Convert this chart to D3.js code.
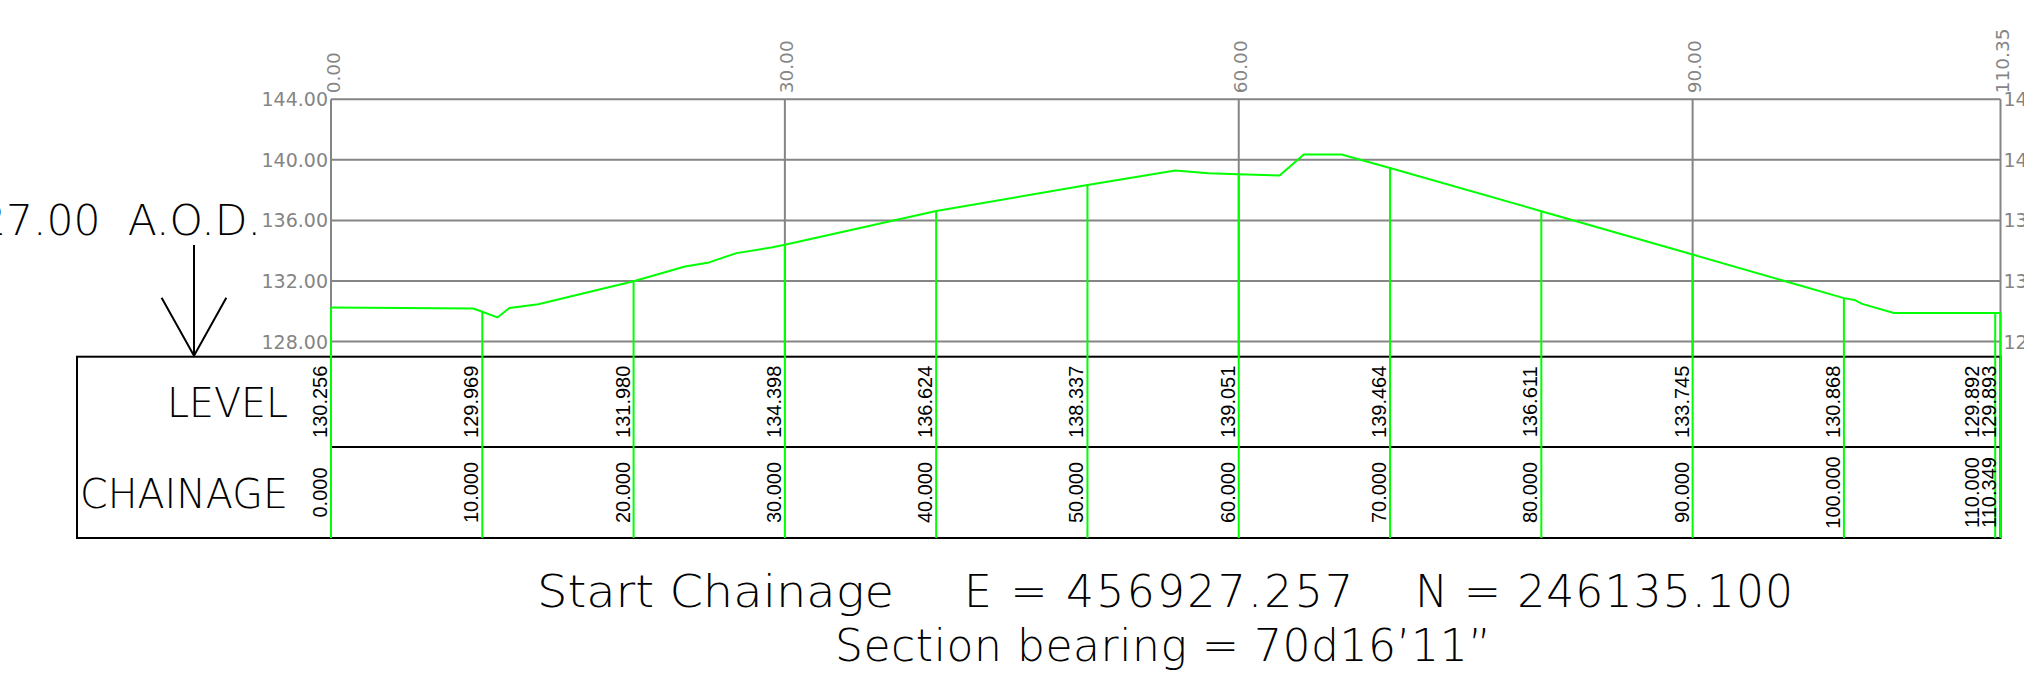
<!DOCTYPE html>
<html>
<head>
<meta charset="utf-8">
<script src="https://cdn.jsdelivr.net/npm/d3@7"></script>
<style>
  body { margin: 0; background: #fff; overflow: hidden; }
  svg { display: block; }
</style>
</head>
<body>
<div id="chart"></div>
<script>
const W = 2024, H = 700;

// section data
const chainages = [0, 10, 20, 30, 40, 50, 60, 70, 80, 90, 100, 110, 110.349];
const levels = [130.256, 129.969, 131.980, 134.398, 136.624, 138.337, 139.051, 139.464, 136.611, 133.745, 130.868, 129.892, 129.893];
const chainageLabels = ["0.000", "10.000", "20.000", "30.000", "40.000", "50.000", "60.000", "70.000", "80.000", "90.000", "100.000", "110.000", "110.349"];
const levelLabels = ["130.256", "129.969", "131.980", "134.398", "136.624", "138.337", "139.051", "139.464", "136.611", "133.745", "130.868", "129.892", "129.893"];

// ground profile vertices
const profileCh = [0, 9.4, 10, 11.0, 11.8, 13.7, 20, 23.4, 24.9, 26.8, 29.1, 30, 40, 50, 55.8, 58.0, 60, 62.7, 64.3, 66.8, 70, 80, 90, 100, 100.7, 101.2, 103.3, 110, 110.349];
const profileLv = [130.256, 130.18, 129.969, 129.59, 130.22, 130.47, 131.980, 132.96, 133.2, 133.84, 134.21, 134.398, 136.624, 138.337, 139.30, 139.12, 139.051, 138.97, 140.36, 140.36, 139.464, 136.611, 133.745, 130.868, 130.75, 130.49, 129.89, 129.892, 129.893];

const gridLevels = [128, 132, 136, 140, 144];
const gridLabels = ["128.00", "132.00", "136.00", "140.00", "144.00"];
const topTicks = [0, 30, 60, 90, 110.35];
const topTickLabels = ["0.00", "30.00", "60.00", "90.00", "110.35"];
const datum = 127;

const GREY = "#858585";
const GREEN = "#00ff00";
const CAD_FONT = "'DejaVu Sans', sans-serif";

const x = d3.scaleLinear().domain([0, 110.35]).range([331, 2000.5]);
const y = d3.scaleLinear().domain([datum, 144]).range([356.7, 99.3]);

const tableLeft = 77, tableTop = y(datum), tableMid = 447, tableBottom = 538;

const svg = d3.select("#chart").append("svg").attr("width", W).attr("height", H);

// grid lines
svg.append("g").selectAll("line").data(gridLevels).enter().append("line")
    .attr("x1", x(0)).attr("x2", x(110.35))
    .attr("y1", d => y(d)).attr("y2", d => y(d))
    .attr("stroke", GREY).attr("stroke-width", 2);

svg.append("g").selectAll("line").data(topTicks).enter().append("line")
    .attr("x1", d => x(d)).attr("x2", d => x(d))
    .attr("y1", y(144)).attr("y2", tableTop)
    .attr("stroke", GREY).attr("stroke-width", 2);

// level labels, left and right (right ones run off the sheet as in the drawing)
svg.append("g").selectAll("text").data(gridLevels).enter().append("text")
    .attr("x", x(0) - 3).attr("y", d => y(d) + 7)
    .attr("text-anchor", "end")
    .attr("font-family", CAD_FONT).attr("font-size", 19)
    .attr("fill", GREY)
    .text((d, i) => gridLabels[i]);

svg.append("g").selectAll("text").data(gridLevels).enter().append("text")
    .attr("x", x(110.35) + 3).attr("y", d => y(d) + 7)
    .attr("font-family", CAD_FONT).attr("font-size", 19)
    .attr("fill", GREY)
    .text((d, i) => gridLabels[i]);

// chainage labels along the top
svg.append("g").selectAll("text").data(topTicks).enter().append("text")
    .attr("transform", d => `translate(${x(d) + 2},${y(144) - 6}) rotate(-90)`)
    .attr("dominant-baseline", "central")
    .attr("font-family", CAD_FONT).attr("font-size", 18.5)
    .attr("fill", GREY)
    .text((d, i) => topTickLabels[i]);

// table frame
const table = svg.append("g").attr("stroke", "#000").attr("stroke-width", 2).attr("fill", "none");
table.append("rect")
    .attr("x", tableLeft).attr("y", tableTop)
    .attr("width", x(110.349) - tableLeft).attr("height", tableBottom - tableTop);
table.append("line")
    .attr("x1", x(0)).attr("x2", x(110.349))
    .attr("y1", tableMid).attr("y2", tableMid);

// profile line
const line = d3.line().x(d => x(d[0])).y(d => y(d[1]));
svg.append("path")
    .datum(profileCh.map((c, i) => [c, profileLv[i]]))
    .attr("d", line)
    .attr("fill", "none").attr("stroke", GREEN).attr("stroke-width", 2);

// verticals from ground down to table bottom
svg.append("g").selectAll("line").data(chainages).enter().append("line")
    .attr("x1", d => x(d)).attr("x2", d => x(d))
    .attr("y1", (d, i) => y(levels[i])).attr("y2", tableBottom)
    .attr("stroke", GREEN).attr("stroke-width", 2);

// keep close labels from sitting on top of each other
const baseX = chainages.map(d => x(d) - 4);
for (let i = baseX.length - 2; i >= 0; i--) {
    baseX[i] = Math.min(baseX[i], baseX[i + 1] - 17);
}

svg.append("g").selectAll("text").data(chainages).enter().append("text")
    .attr("transform", (d, i) => `translate(${baseX[i]},${(tableTop + tableMid) / 2}) rotate(-90)`)
    .attr("text-anchor", "middle")
    .attr("font-family", "'Liberation Sans', Arial, sans-serif").attr("font-size", 20)
    .attr("fill", "#000")
    .text((d, i) => levelLabels[i]);

svg.append("g").selectAll("text").data(chainages).enter().append("text")
    .attr("transform", (d, i) => `translate(${baseX[i]},${(tableMid + tableBottom) / 2}) rotate(-90)`)
    .attr("text-anchor", "middle")
    .attr("font-family", "'Liberation Sans', Arial, sans-serif").attr("font-size", 20)
    .attr("fill", "#000")
    .text((d, i) => chainageLabels[i]);

// row titles
svg.append("text")
    .attr("x", 288).attr("y", 417).attr("text-anchor", "end")
    .attr("font-family", CAD_FONT).attr("font-weight", 200).attr("font-size", 41)
    .attr("textLength", 121).attr("lengthAdjust", "spacingAndGlyphs")
    .text("LEVEL");
svg.append("text")
    .attr("x", 288).attr("y", 508).attr("text-anchor", "end")
    .attr("font-family", CAD_FONT).attr("font-weight", 200).attr("font-size", 41)
    .attr("textLength", 208).attr("lengthAdjust", "spacingAndGlyphs")
    .text("CHAINAGE");

// datum note and arrow
svg.append("text")
    .attr("x", 261).attr("y", 235).attr("text-anchor", "end")
    .attr("font-family", CAD_FONT).attr("font-weight", 200).attr("font-size", 42.5)
    .style("white-space", "pre")
    .text("DATUM 127.00  A.O.D.");

const arrow = svg.append("g").attr("stroke", "#000").attr("stroke-width", 2).attr("fill", "none");
arrow.append("line").attr("x1", 194).attr("x2", 194).attr("y1", 245).attr("y2", tableTop - 1);
arrow.append("path").attr("d", `M161.6,297.7 L194,${tableTop - 1} L226.3,297.7`);

// footer
const foot = svg.append("g")
    .attr("font-family", CAD_FONT).attr("font-weight", 200).attr("font-size", 44)
    .attr("fill", "#000");
foot.append("text").attr("x", 537).attr("y", 607)
    .attr("textLength", 357).attr("lengthAdjust", "spacingAndGlyphs")
    .text("Start Chainage");
foot.append("text").attr("x", 964).attr("y", 607)
    .style("white-space", "pre")
    .attr("textLength", 389).attr("lengthAdjust", "spacing")
    .text("E = 456927.257");
foot.append("text").attr("x", 1415).attr("y", 607)
    .style("white-space", "pre")
    .attr("textLength", 378).attr("lengthAdjust", "spacing")
    .text("N = 246135.100");
foot.append("text").attr("x", 835).attr("y", 661)
    .style("white-space", "pre")
    .attr("textLength", 656).attr("lengthAdjust", "spacing")
    .text("Section bearing = 70d16\u201911\u201d");
</script>
</body>
</html>
